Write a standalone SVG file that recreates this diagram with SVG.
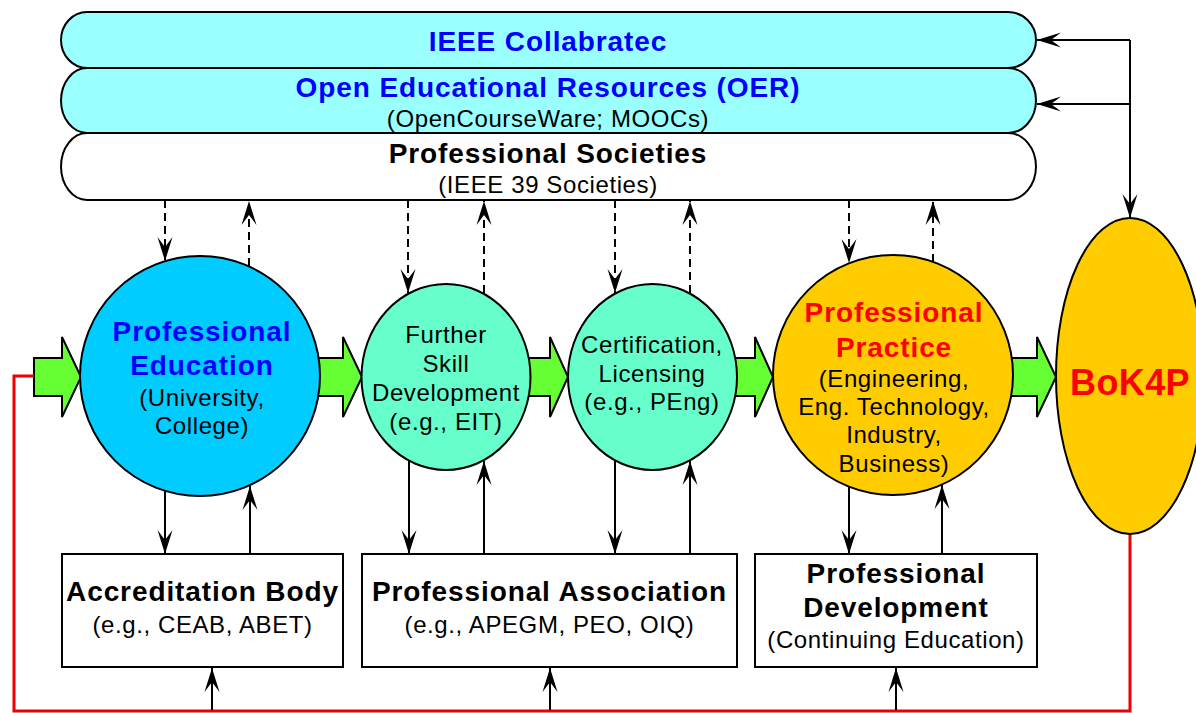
<svg xmlns="http://www.w3.org/2000/svg" width="1196" height="713" viewBox="0 0 1196 713">
<style>
.nd{stroke:#000;stroke-width:2}
.b{font-family:"Liberation Sans",Arial,sans-serif;font-weight:bold;font-size:28px;text-anchor:middle;letter-spacing:0.9px}
.r{font-family:"Liberation Sans",Arial,sans-serif;font-size:24px;text-anchor:middle;fill:#000;letter-spacing:0.6px}
.blue{fill:#0000ff}
.red{fill:#ff0000}
.blk{fill:#000}
.ln{stroke:#000;stroke-width:2;fill:none;marker-end:url(#ah)}
.dl{stroke:#000;stroke-width:2;fill:none;stroke-dasharray:8 5;marker-end:url(#ah)}
.ga{fill:#66ff33;stroke:#000;stroke-width:2;stroke-linejoin:miter}
</style>
<defs>
<marker id="ah" markerUnits="userSpaceOnUse" viewBox="-26 -9 28 18" refX="0" refY="0" markerWidth="28" markerHeight="18" orient="auto">
<path d="M0,0 L-24,-7.5 L-14,0 L-24,7.5 Z" fill="#000"/>
</marker>
</defs>
<rect width="1196" height="713" fill="#fff"/>

<g id="connectors">
<polygon class="ga" points="34,358 62,358 62,337 81,377 62,417 62,396 34,396"/>
<polygon class="ga" points="310,358 343,358 343,337 362,377 343,417 343,396 310,396"/>
<polygon class="ga" points="520,358 550,358 550,337 568,377 550,417 550,396 520,396"/>
<polygon class="ga" points="725,358 755,358 755,337 773,377 755,417 755,396 725,396"/>
<polygon class="ga" points="1000,358 1037,358 1037,337 1056,377 1037,417 1037,396 1000,396"/>
<polyline points="1130,534 1130,711 14,711 14,376 34,376" fill="none" stroke="#ee0000" stroke-width="3"/>
<path d="M1130,40 V218" class="ln"/>
<path d="M1130,40 H1037" class="ln"/>
<path d="M1130,104 H1037" class="ln"/>
<path d="M165,200 V261" class="dl"/>
<path d="M249,266 V201" class="dl"/>
<path d="M408,200 V293" class="dl"/>
<path d="M484,293 V201" class="dl"/>
<path d="M615,200 V293" class="dl"/>
<path d="M690,293 V201" class="dl"/>
<path d="M849,200 V263" class="dl"/>
<path d="M933,262 V201" class="dl"/>
<path d="M165,491 V554" class="ln"/>
<path d="M250,554 V486" class="ln"/>
<path d="M409,461 V554" class="ln"/>
<path d="M484,554 V461" class="ln"/>
<path d="M615,461 V554" class="ln"/>
<path d="M690,554 V461" class="ln"/>
<path d="M849,487 V554" class="ln"/>
<path d="M942,554 V485" class="ln"/>
<path d="M212,710 V668" class="ln"/>
<path d="M550,710 V668" class="ln"/>
<path d="M896,710 V668" class="ln"/>
</g>

<g id="societies">
<path class="nd" fill="#ffffff" d="M87,133 H1008 A28,33.5 0 0 1 1008,200 H87 A26,33.5 0 0 1 87,133 Z"/>
<text class="b blk" x="548" y="163">Professional Societies</text>
<text class="r" x="548" y="193">(IEEE 39 Societies)</text>
</g>
<g id="oer">
<path class="nd" fill="#99ffff" d="M87,68 H1008 A28,32.5 0 0 1 1008,133 H87 A26,32.5 0 0 1 87,68 Z"/>
<text class="b blue" x="548" y="97">Open Educational Resources (OER)</text>
<text class="r" x="548" y="127">(OpenCourseWare; MOOCs)</text>
</g>
<g id="collabratec">
<path class="nd" fill="#99ffff" d="M87,12 H1008 A28,28 0 0 1 1008,68 H87 A26,28 0 0 1 87,12 Z"/>
<text class="b blue" x="548" y="51">IEEE Collabratec</text>
</g>

<g id="professional-education">
<circle class="nd" cx="200" cy="376" r="120" fill="#00ccff"/>
<text class="b blue" x="202" y="341">Professional</text>
<text class="b blue" x="202" y="375">Education</text>
<text class="r" x="202" y="406">(University,</text>
<text class="r" x="202" y="434">College)</text>
</g>
<g id="further-skill">
<ellipse class="nd" cx="446" cy="377" rx="84.5" ry="93" fill="#66ffcc"/>
<text class="r" x="446" y="343">Further</text>
<text class="r" x="446" y="372">Skill</text>
<text class="r" x="446" y="401">Development</text>
<text class="r" x="446" y="430">(e.g., EIT)</text>
</g>
<g id="certification">
<ellipse class="nd" cx="652.5" cy="377" rx="84.5" ry="93" fill="#66ffcc"/>
<text class="r" x="652" y="353">Certification,</text>
<text class="r" x="652" y="382">Licensing</text>
<text class="r" x="652" y="410">(e.g., PEng)</text>
</g>
<g id="professional-practice">
<circle class="nd" cx="893" cy="375" r="120" fill="#ffcc00"/>
<text class="b red" x="894" y="322">Professional</text>
<text class="b red" x="894" y="357">Practice</text>
<text class="r" x="894" y="387">(Engineering,</text>
<text class="r" x="894" y="415">Eng. Technology,</text>
<text class="r" x="894" y="443">Industry,</text>
<text class="r" x="894" y="472">Business)</text>
</g>
<g id="bok4p">
<ellipse class="nd" cx="1130" cy="376" rx="74" ry="158" fill="#ffcc00"/>
<text class="b red" x="1130" y="395" style="font-size:36px;letter-spacing:0.4px">BoK4P</text>
</g>

<g id="accreditation">
<rect class="nd" x="62" y="554" width="281" height="113" fill="#fff"/>
<text class="b blk" x="202.5" y="601">Accreditation Body</text>
<text class="r" x="202.5" y="633">(e.g., CEAB, ABET)</text>
</g>
<g id="association">
<rect class="nd" x="362" y="554" width="375" height="113" fill="#fff"/>
<text class="b blk" x="549.5" y="601">Professional Association</text>
<text class="r" x="549.5" y="633">(e.g., APEGM, PEO, OIQ)</text>
</g>
<g id="development">
<rect class="nd" x="755" y="554" width="282" height="113" fill="#fff"/>
<text class="b blk" x="896" y="583">Professional</text>
<text class="b blk" x="896" y="617">Development</text>
<text class="r" x="896" y="648">(Continuing Education)</text>
</g>
</svg>
